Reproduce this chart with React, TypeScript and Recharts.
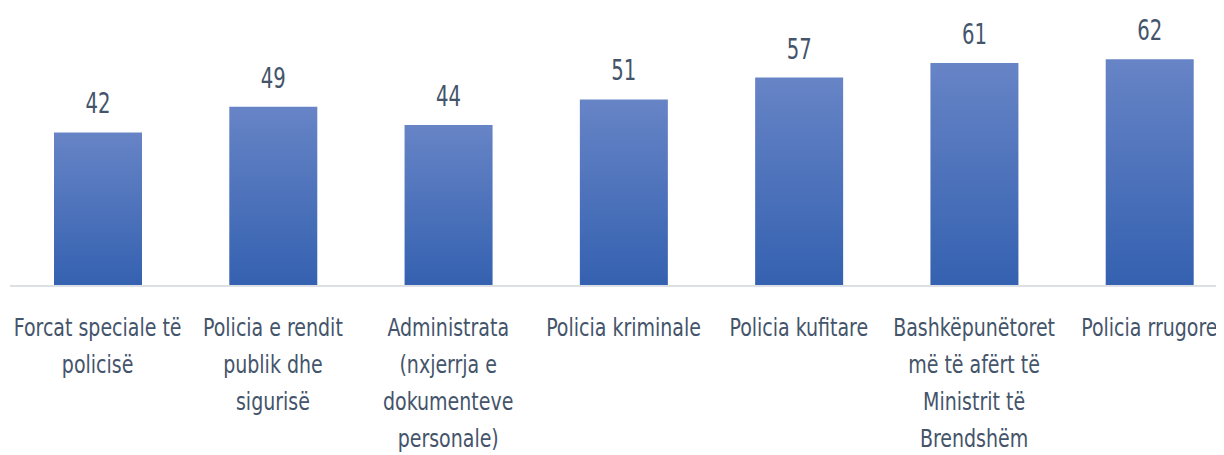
import React from "react";
import { BarChart, Bar, XAxis, YAxis, LabelList } from "recharts";

const categories = [
  "Forcat speciale të policisë",
  "Policia e rendit publik dhe sigurisë",
  "Administrata (nxjerrja e dokumenteve personale)",
  "Policia kriminale",
  "Policia kufitare",
  "Bashkëpunëtoret më të afërt të Ministrit të Brendshëm",
  "Policia rrugore",
];

const tickLines: string[][] = [
  ["Forcat speciale të", "policisë"],
  ["Policia e rendit", "publik dhe", "sigurisë"],
  ["Administrata", "(nxjerrja e", "dokumenteve", "personale)"],
  ["Policia kriminale"],
  ["Policia kufitare"],
  ["Bashkëpunëtoret", "më të afërt të", "Ministrit të", "Brendshëm"],
  ["Policia rrugore"],
];

const values = [42, 49, 44, 51, 57, 61, 62];

const data = categories.map((c, i) => ({ name: c, value: values[i] }));

const FONT = '"DejaVu Sans Condensed", "DejaVu Sans", sans-serif';
const TEXT = "#44546A";

const Tick = (props: any) => {
  const { x, y, payload } = props;
  const idx = categories.indexOf(payload.value);
  const lines = tickLines[idx] || [payload.value];
  return (
    <g transform={`translate(${x},${y}) scale(0.845,1)`}>
      <text textAnchor="middle" fill={TEXT} fontSize={25} fontFamily={FONT}>
        {lines.map((l, i) => (
          <tspan key={i} x={0} y={50 + 37 * i}>
            {l}
          </tspan>
        ))}
      </text>
    </g>
  );
};

const ValueLabel = (props: any) => {
  const { x, y, width, value } = props;
  const cx = Number(x) + Number(width) / 2;
  return (
    <text
      transform={`translate(${cx},${Number(y) - 19}) scale(0.78,1)`}
      textAnchor="middle"
      fill={TEXT}
      fontSize={28}
      fontFamily={FONT}
    >
      {value}
    </text>
  );
};

export default function App() {
  return (
    <div style={{ width: 1216, overflow: "hidden" }}>
      <BarChart
        width={1229}
        height={447}
        data={data}
        margin={{ top: 22, right: 0, bottom: 0, left: 2 }}
      >
        <defs>
          <linearGradient id="barGrad" x1="0" y1="0" x2="0" y2="1">
            <stop offset="0%" stopColor="#6784C6" />
            <stop offset="100%" stopColor="#3461B0" />
          </linearGradient>
        </defs>
        <YAxis hide domain={[0, 70]} />
        <XAxis
          dataKey="name"
          height={169}
          interval={0}
          tickLine={false}
          tickSize={0}
          tickMargin={0}
          axisLine={{ stroke: "#DCDFE4", strokeWidth: 2 }}
          tick={<Tick />}
        />
        <Bar dataKey="value" fill="url(#barGrad)" barSize={88} isAnimationActive={false}>
          <LabelList dataKey="value" content={<ValueLabel />} />
        </Bar>
      </BarChart>
    </div>
  );
}
